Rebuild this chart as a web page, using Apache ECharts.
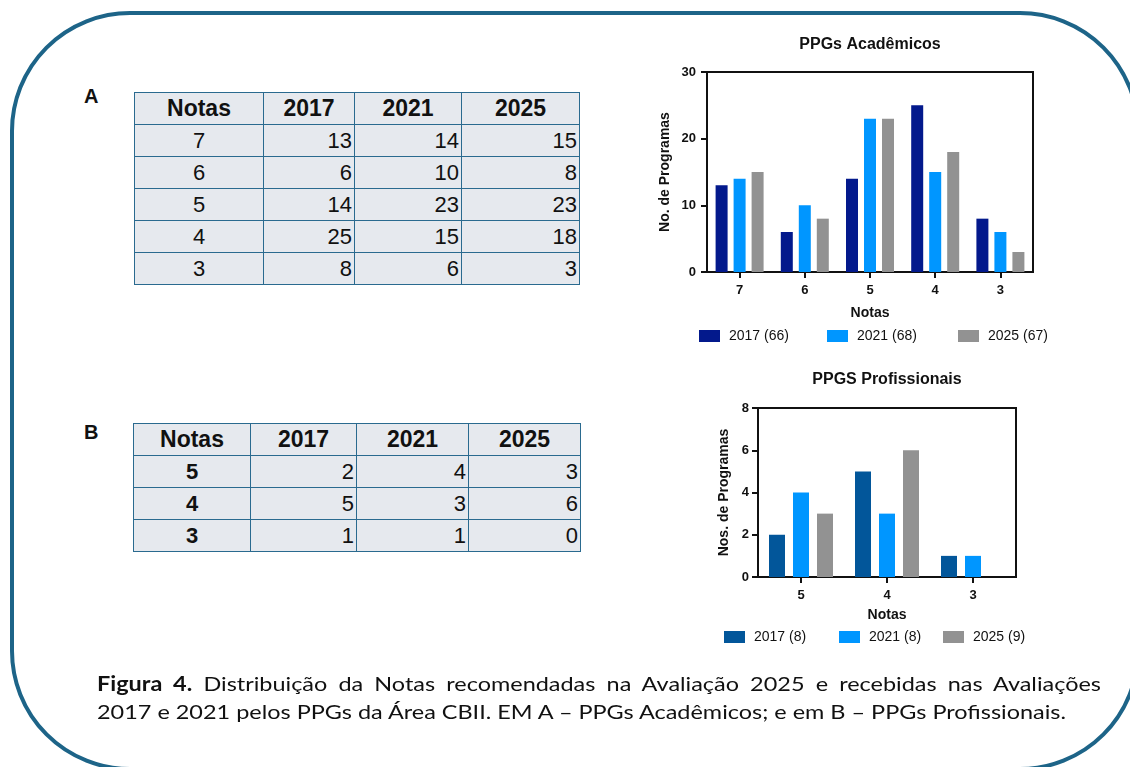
<!DOCTYPE html>
<html lang="pt-BR">
<head>
<meta charset="utf-8">
<title>Figura 4 – Distribuição das Notas</title>
<script src="https://cdn.jsdelivr.net/npm/echarts@6.0.0/dist/echarts.min.js"></script>
<style>
  html, body { margin: 0; padding: 0; background: #fff; }
  body { position: relative; width: 1130px; height: 767px; overflow: hidden; }
  #frame {
    position: absolute; left: 10px; top: 11px; width: 1130px; height: 760px;
    box-sizing: border-box; border: 4px solid #1d6488; border-radius: 120px;
  }
  #chart { position: absolute; left: 0; top: 0; width: 1130px; height: 767px; }
  .tag {
    position: absolute; font: bold 20px 'Liberation Sans', Arial, sans-serif;
    line-height: 20px; color: #111;
  }
  .tbl {
    position: absolute; display: grid; grid-auto-rows: 32px;
    background: #e6e9ee; border-top: 1.5px solid #2a6a8f; border-left: 1.5px solid #2a6a8f;
    font-family: 'Liberation Sans', Arial, sans-serif; color: #111;
  }
  .tbl div {
    display: flex; align-items: center; justify-content: flex-end;
    box-sizing: border-box; padding-right: 2px;
    border-right: 1.5px solid #2a6a8f; border-bottom: 1.5px solid #2a6a8f;
    font-size: 22px;
  }
  .tbl div.head { justify-content: center; font-weight: bold; font-size: 23px; padding: 0; }
  .tbl div.nota { justify-content: center; padding: 0; }
  .tbl.b div.nota { font-weight: bold; }
  #caption {
    position: absolute; left: 97px; top: 669px; transform-origin: 0 0;
    font-family: Lato, 'Open Sans', sans-serif; font-size: 20px; line-height: 28px; color: #111;
    white-space: nowrap;
  }
  #line1 { text-align: justify; text-align-last: justify; white-space: normal; }
</style>
</head>
<body>
<div id="frame"></div>
<div class="tag" style="left:84px; top:86px;">A</div>
<div class="tag" style="left:84px; top:422px;">B</div>
<div id="tableA" class="tbl" style="left:134px; top:92px;"></div>
<div id="tableB" class="tbl b" style="left:133px; top:423px;"></div>
<div id="chart"></div>
<div id="caption">
  <div id="line1"><b>Figura 4.</b> Distribuição da Notas recomendadas na Avaliação 2025 e recebidas nas Avaliações</div>
  <div><span id="line2">2017 e 2021 pelos PPGs da Área CBII. EM A – PPGs Acadêmicos; e em B – PPGs Profissionais.</span></div>
</div>

<script>
// A – PPGs Acadêmicos
const notasA = ['7', '6', '5', '4', '3']
const acad2017 = [13, 6, 14, 25, 8]
const acad2021 = [14, 10, 23, 15, 6]
const acad2025 = [15, 8, 23, 18, 3]
const legendA = ['2017 (66)', '2021 (68)', '2025 (67)']

// B – PPGs Profissionais
const notasB = ['5', '4', '3']
const prof2017 = [2, 5, 1]
const prof2021 = [4, 3, 1]
const prof2025 = [3, 6, 0]
const legendB = ['2017 (8)', '2021 (8)', '2025 (9)']

const anos = ['2017', '2021', '2025']

const FONT = "'Liberation Sans', Arial, sans-serif"
const INK = '#111'

function fillTable(el, notas, cols, widths) {
  el.style.gridTemplateColumns = widths.map((w) => w + 'px').join(' ')
  const cells = ['<div class="head">Notas</div>']
  anos.forEach((ano) => cells.push(`<div class="head">${ano}</div>`))
  notas.forEach((nota, i) => {
    cells.push(`<div class="nota">${nota}</div>`)
    cols.forEach((col) => cells.push(`<div>${col[i]}</div>`))
  })
  el.innerHTML = cells.join('')
}

fillTable(document.getElementById('tableA'), notasA, [acad2017, acad2021, acad2025], [129, 91, 107, 118])
fillTable(document.getElementById('tableB'), notasB, [prof2017, prof2021, prof2025], [117, 106, 112, 112])

function panel(idx, p) {
  const axisLine = { show: true, lineStyle: { color: INK, width: 2 } }
  const axisTick = { show: true, length: 6, lineStyle: { color: INK, width: 2 } }
  const nameStyle = { fontFamily: FONT, fontSize: 14, fontWeight: 'bold', color: INK }
  const labelStyle = { fontFamily: FONT, fontSize: 13, fontWeight: 'bold', color: INK }

  return {
    title: {
      text: p.title, left: p.titleX, top: p.titleY, textAlign: 'center', padding: 0,
      textStyle: { fontFamily: FONT, fontSize: 16, fontWeight: 'bold', color: INK },
    },
    grid: {
      left: p.grid[0], top: p.grid[1], width: p.grid[2], height: p.grid[3],
      show: true, borderColor: INK, borderWidth: 2, backgroundColor: 'transparent',
    },
    xAxis: {
      type: 'category', gridIndex: idx, data: p.notas,
      name: 'Notas', nameLocation: 'middle', nameGap: p.xNameGap, nameTextStyle: nameStyle,
      axisLine, axisTick: { ...axisTick, alignWithLabel: true },
      axisLabel: { ...labelStyle, margin: 12 },
      splitLine: { show: false },
    },
    yAxis: {
      type: 'value', gridIndex: idx, min: 0, max: p.yMax, interval: p.yStep,
      name: p.yName, nameLocation: 'middle', nameGap: p.yNameGap, nameTextStyle: nameStyle,
      axisLine, axisTick, axisLabel: { ...labelStyle, margin: p.yLabelMargin },
      splitLine: { show: false },
    },
    series: p.values.map((data, i) => ({
      type: 'bar', name: p.legend[i], xAxisIndex: idx, yAxisIndex: idx, data,
      barWidth: p.barWidth, barGap: '50%',
      itemStyle: { color: p.colors[i] },
    })),
    legend: p.legend.map((name, i) => ({
      data: [name], left: p.legendX[i], top: p.legendY, padding: 0,
      icon: 'rect', itemWidth: 21, itemHeight: 12, selectedMode: false,
      textStyle: { fontFamily: FONT, fontSize: 14, color: INK, padding: [0, 0, 0, 4] },
    })),
  }
}

const panels = [
  panel(0, {
    title: 'PPGs Acadêmicos', titleX: 870, titleY: 37,
    grid: [707, 72, 326, 200], notas: notasA, yMax: 30, yStep: 10,
    yName: 'No. de Programas', yNameGap: 35, xNameGap: 34, yLabelMargin: 11,
    values: [acad2017, acad2021, acad2025], legend: legendA, barWidth: 12,
    colors: ['#03198c', '#0096ff', '#929292'],
    legendX: [699, 827, 958], legendY: 329,
  }),
  panel(1, {
    title: 'PPGS Profissionais', titleX: 887, titleY: 372,
    grid: [758, 408, 258, 169], notas: notasB, yMax: 8, yStep: 2,
    yName: 'Nos. de Programas', yNameGap: 27, xNameGap: 31, yLabelMargin: 9,
    values: [prof2017, prof2021, prof2025], legend: legendB, barWidth: 16,
    colors: ['#02569a', '#0096ff', '#929292'],
    legendX: [724, 839, 943], legendY: 630,
  }),
]

const option = { animation: false, backgroundColor: 'transparent' }
;['title', 'grid', 'xAxis', 'yAxis'].forEach((k) => { option[k] = panels.map((p) => p[k]) })
option.series = panels.flatMap((p) => p.series)
option.legend = panels.flatMap((p) => p.legend)

const chart = echarts.init(document.getElementById('chart'), null, { renderer: 'canvas' })
chart.setOption(option)

// fit the caption lines to the widths of the reference
const caption = document.getElementById('caption')
const scale = 969 / document.getElementById('line2').getBoundingClientRect().width
caption.style.transform = `scaleX(${scale})`
document.getElementById('line1').style.width = (1004 / scale) + 'px'
</script>
</body>
</html>
